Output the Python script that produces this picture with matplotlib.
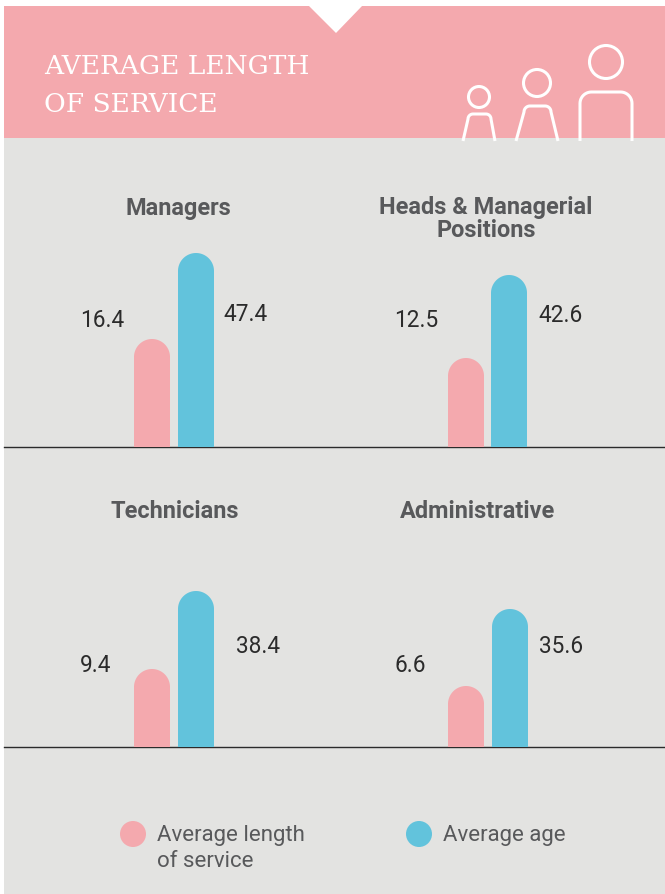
import numpy as np
import matplotlib
matplotlib.use("Agg")
import matplotlib.pyplot as plt
from matplotlib.patches import Circle, Polygon, Rectangle

W, H = 665, 895
PINK = "#f4a9ae"
BLUE = "#62c3dc"
GREY = "#e3e3e1"
TEXT = "#58595b"
DARK = "#2b2b2b"

categories = ["Managers", "Heads & Managerial\nPositions", "Technicians", "Administrative"]
service_labels = ["16.4", "12.5", "9.4", "6.6"]
age_labels = ["47.4", "42.6", "38.4", "35.6"]
# drawn bar heights, the bars are not to scale with the printed numbers
service_heights = [108, 89, 78, 61]
age_heights = [194, 172, 156, 138]
legend_names = ["Average length\nof service", "Average age"]

fig = plt.figure(figsize=(W / 100, H / 100), dpi=100, facecolor="white")

# backdrop in pixel coordinates
bg = fig.add_axes([0, 0, 1, 1])
bg.set_xlim(0, W)
bg.set_ylim(H - 1, -1)
bg.axis("off")
bg.add_patch(Rectangle((4, 138), W - 4, H - 137, color=GREY, lw=0))
bg.add_patch(Rectangle((4, 6), W - 4, 132, color=PINK, lw=0))
bg.add_patch(Polygon([(308, 5), (363, 5), (336, 33)], color="white", lw=0))
bg.text(44, 66, "AVERAGE LENGTH", family="DejaVu Serif", color="white", fontsize=19, va="center", ha="left")
bg.text(44, 104, "OF SERVICE", family="DejaVu Serif", color="white", fontsize=19, va="center", ha="left")


def person(cx, cy, r, xb0, xb1, xt0, xt1, top, lw=2.2):
    bg.add_patch(Circle((cx, cy), r, fill=False, ec="white", lw=lw))
    rad = (xt1 - xt0) * 0.22
    t = np.linspace(0, np.pi / 2, 12)
    xs = np.r_[xb0, xt0 + rad - rad * np.cos(t), xt1 - rad + rad * np.sin(t), xb1]
    ys = np.r_[141, top + rad - rad * np.sin(t), top + rad - rad * np.cos(t), 141]
    bg.plot(xs, ys, color="white", lw=lw, solid_capstyle="butt")


person(479, 97, 10.5, 463, 495, 468, 491, 114)
person(537, 83, 13.5, 516, 558, 524, 551, 106)
person(606, 62, 16.5, 580, 632, 580, 632, 92)

for y in [447, 747]:
    bg.plot([4, W], [y, y], color=DARK, lw=1)

# one small axes per panel, 1 data unit = 1 pixel
lefts = [124, 438, 124, 438]
bases = [448, 448, 748, 748]
service_x = [28, 28, 28, 28]
age_x = [72, 71, 72, 72]
bar_w = 36


def round_bar(ax, x, h, color):
    r = bar_w / 2
    t = np.linspace(0, np.pi, 50)
    ax.fill(np.r_[x + r, x + r * np.cos(t), x - r], np.r_[0, h - r + r * np.sin(t), 0], color=color, lw=0)


for i in range(4):
    ax = fig.add_axes([lefts[i] / W, 1 - bases[i] / H, 100 / W, 200 / H])
    ax.set_xlim(0, 100)
    ax.set_ylim(0, 200)
    ax.axis("off")
    round_bar(ax, service_x[i], service_heights[i], PINK)
    round_bar(ax, age_x[i], age_heights[i], BLUE)

num_kw = dict(family="Roboto", fontsize=16.3, color=DARK, ha="center", va="center")
service_xy = [(102, 320), (416, 320), (96, 665), (410, 665)]
age_xy = [(246, 314), (561, 315), (258, 646), (561, 646)]
title_xy = [(178, 208), (486, 218), (175, 511), (478, 511)]
for i in range(4):
    bg.text(*service_xy[i], service_labels[i], **num_kw)
    bg.text(*age_xy[i], age_labels[i], **num_kw)
    bg.text(*title_xy[i], categories[i], family="Roboto", fontsize=16.9, fontweight="bold", color=TEXT,
            ha="center", va="center", linespacing=0.95)

# legend
bg.add_patch(Circle((133, 834), 13, color=PINK, lw=0))
bg.add_patch(Circle((419, 834), 13, color=BLUE, lw=0))
leg_kw = dict(family="Roboto", fontsize=16, color=TEXT, ha="left", va="center")
first, second = legend_names[0].split("\n")
bg.text(157, 835, first, **leg_kw)
bg.text(157, 861, second, **leg_kw)
bg.text(443, 835, legend_names[1], **leg_kw)

fig.savefig("out.png", dpi=100)
